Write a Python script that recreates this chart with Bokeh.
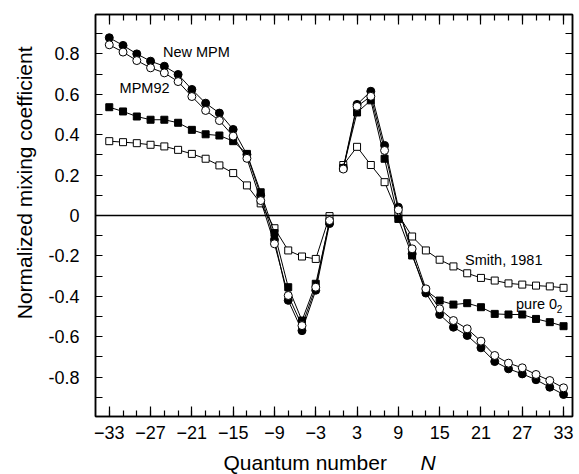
from bokeh.plotting import figure
from bokeh.models import (LinearAxis, FixedTicker, CustomJSTickFormatter, Label,
                          Span, Range1d, ColumnDataSource, Title)
from bokeh.layouts import column
from bokeh.embed import file_html
from bokeh.resources import INLINE
from bokeh.core.properties import value

# ---------------- data ----------------
n_neg = [-33, -31, -29, -27, -25, -23, -21, -19, -17, -15, -13, -11, -9, -7, -5, -3, -1]
n_pos = [1, 3, 5, 7, 9, 11, 13, 15, 17, 19, 21, 23, 25, 27, 29, 31, 33]

new_mpm_neg = [0.880, 0.842, 0.800, 0.764, 0.739, 0.698, 0.624, 0.556, 0.507, 0.426,
               0.302, 0.100, -0.120, -0.420, -0.570, -0.370, -0.040]
new_mpm_pos = [0.235, 0.550, 0.615, 0.347, 0.041, -0.190, -0.384, -0.490, -0.553, -0.594,
               -0.655, -0.723, -0.759, -0.784, -0.813, -0.850, -0.886]

mpm92_neg = [0.845, 0.809, 0.767, 0.731, 0.706, 0.663, 0.589, 0.520, 0.470, 0.393,
             0.283, 0.074, -0.140, -0.396, -0.545, -0.355, -0.025]
mpm92_pos = [0.230, 0.540, 0.590, 0.322, 0.028, -0.165, -0.363, -0.462, -0.520, -0.561,
             -0.622, -0.693, -0.731, -0.754, -0.787, -0.817, -0.853]

pure_o2_neg = [0.536, 0.515, 0.490, 0.474, 0.474, 0.459, 0.424, 0.402, 0.396, 0.368,
               0.305, 0.115, -0.087, -0.355, -0.520, -0.338, -0.030]
pure_o2_pos = [0.235, 0.510, 0.570, 0.281, -0.017, -0.198, -0.371, -0.421, -0.441, -0.434,
               -0.454, -0.487, -0.490, -0.490, -0.512, -0.528, -0.548]

smith_neg = [0.368, 0.363, 0.358, 0.350, 0.342, 0.325, 0.305, 0.281, 0.248, 0.210,
             0.149, 0.060, -0.063, -0.173, -0.203, -0.215, -0.003]
smith_pos = [0.250, 0.340, 0.250, 0.165, 0.003, -0.104, -0.173, -0.219, -0.252, -0.286,
             -0.309, -0.322, -0.336, -0.342, -0.347, -0.351, -0.358]

x_major = [-33, -27, -21, -15, -9, -3, 3, 9, 15, 21, 27, 33]
x_minor = list(range(-33, 34, 2))
y_major = [-0.8, -0.6, -0.4, -0.2, 0.0, 0.2, 0.4, 0.6, 0.8]
y_minor = [-0.9, -0.7, -0.5, -0.3, -0.1, 0.1, 0.3, 0.5, 0.7, 0.9]

FONT = "Liberation Sans"

p = figure(width=578, height=450,
           x_range=Range1d(-35.0, 34.3), y_range=Range1d(-0.995, 0.995),
           output_backend="svg", toolbar_location=None,
           min_border_left=92, min_border_top=14, min_border_right=6, min_border_bottom=34,
           x_axis_location=None, y_axis_location=None)
p.grid.visible = False
p.outline_line_color = "black"
p.outline_line_width = 1.5
p.background_fill_color = "white"
p.border_fill_color = "white"

xt = FixedTicker(ticks=x_major, minor_ticks=x_minor)
yt = FixedTicker(ticks=y_major, minor_ticks=y_minor)
yfmt = CustomJSTickFormatter(code="return tick == 0 ? '0' : tick.toFixed(1);")
blank = CustomJSTickFormatter(code="return '';")


def style(ax, labels, major_len, minor_len):
    ax.axis_line_color = "black"
    ax.axis_line_width = 1.5
    ax.major_tick_line_color = "black"
    ax.minor_tick_line_color = "black"
    ax.major_tick_line_width = 1.2
    ax.minor_tick_line_width = 1.2
    ax.major_tick_in = major_len
    ax.major_tick_out = 0
    ax.minor_tick_in = minor_len
    ax.minor_tick_out = 0
    if labels:
        ax.major_label_text_font = FONT
        ax.major_label_text_font_size = "18px"
        ax.major_label_text_color = "black"
    else:
        ax.major_label_text_font_size = "1px"
        ax.major_label_standoff = 0


xb = LinearAxis(ticker=xt)
style(xb, True, 10, 6)
xb.major_label_standoff = 9
p.add_layout(xb, "below")

xa = LinearAxis(ticker=xt, formatter=blank)
style(xa, False, 10, 6)
p.add_layout(xa, "above")

yl = LinearAxis(ticker=yt, formatter=yfmt)
style(yl, True, 7, 7)
yl.major_label_standoff = 16
p.add_layout(yl, "left")

yr = LinearAxis(ticker=yt, formatter=blank)
style(yr, False, 7, 7)
p.add_layout(yr, "right")

p.add_layout(Title(text="Normalized mixing coefficient", align="right", offset=32,
                   text_font=FONT, text_font_size="21px", text_font_style="normal",
                   text_color="black", standoff=20), "left")

p.add_layout(Span(location=0, dimension="width", line_color="black", line_width=1.5))

series = [
    (smith_neg, smith_pos, "square", "white", 7),
    (pure_o2_neg, pure_o2_pos, "square", "black", 7),
    (new_mpm_neg, new_mpm_pos, "circle", "black", 8),
    (mpm92_neg, mpm92_pos, "circle", "white", 8),
]
for yn, yp, marker, fill, size in series:
    for xs, ys in ((n_neg, yn), (n_pos, yp)):
        src = ColumnDataSource(dict(x=xs, y=ys))
        p.line("x", "y", source=src, line_color="black", line_width=1)
        p.scatter("x", "y", source=src, marker=marker, size=size,
                  fill_color=fill, line_color="black", line_width=1)


def label(x, y, text, size="14.5px"):
    p.add_layout(Label(x=x, y=y, text=text, text_font=FONT, text_font_size=size,
                       text_align="left", text_baseline="middle", text_color="black"))


label(-25.2, 0.81, "New MPM")
label(-31.5, 0.632, "MPM92")
label(18.7, -0.218, "Smith, 1981")
label(26.1, -0.437, "pure 0")
label(32.0, -0.465, "2", size="10px")

# x-axis title strip (below the plot); x in page pixels over the frame span
p2 = figure(width=578, height=24, x_range=Range1d(92, 572), y_range=Range1d(24, 0),
            output_backend="svg", toolbar_location=None,
            min_border_left=92, min_border_right=6, min_border_top=0, min_border_bottom=0,
            x_axis_location=None, y_axis_location=None)
p2.grid.visible = False
p2.outline_line_color = None
p2.background_fill_color = "white"
p2.border_fill_color = "white"
p2.text(x=[303], y=[12], text=["Quantum number"], text_align="center",
        text_baseline="middle", text_font=value(FONT), text_font_size="21px",
        text_color="black")
p2.text(x=[419], y=[12], text=["N"], text_align="left", text_baseline="middle",
        text_font=value(FONT), text_font_size="21px", text_font_style="italic",
        text_color="black")

layout = column(p, p2, spacing=0)
open("out.html", "w").write(file_html(layout, INLINE))
